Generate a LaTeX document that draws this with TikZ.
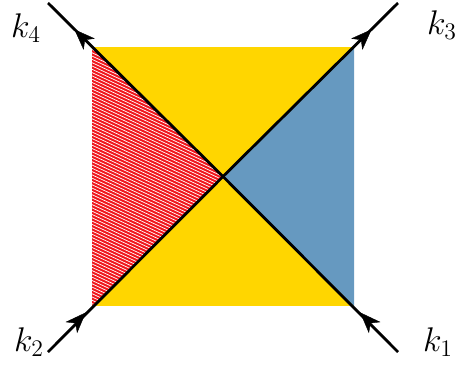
\documentclass[tikz,border=0pt]{standalone}
\usetikzlibrary{decorations.markings,arrows.meta}
\definecolor{gold}{RGB}{255,214,0}
\definecolor{steel}{RGB}{102,153,192}
\definecolor{hred}{RGB}{240,22,28}
\tikzset{
  leg/.style={line width=2.8pt, black},
  arrowmark/.style={postaction={decorate},decoration={markings,
     mark=at position #1 with {\arrow{Stealth[length=21pt,width=16pt,inset=6pt]}}}},
  lbl/.style={font=\huge, scale=1.65, inner sep=0pt}
}
\begin{document}
\begin{tikzpicture}[x=1pt,y=-1pt]
\useasboundingbox (0,0) rectangle (459,370);
\coordinate (TL) at (92,47);
\coordinate (TR) at (354,47);
\coordinate (BL) at (92,306);
\coordinate (BR) at (354,306);
\coordinate (C) at (223,176.5);
\coordinate (E1) at (398,352);
\coordinate (E2) at (48,352);
\coordinate (E3) at (398,3);
\coordinate (E4) at (48,3);
% areas
\fill[gold] (TL) rectangle (BR);
\fill[steel] (TR) -- (BR) -- (C) -- cycle;
\fill[hred] (TL) -- (BL) -- (C) -- cycle;
\begin{scope}
  \clip (TL) -- (BL) -- (C) -- cycle;
  \foreach \i in {-30,...,100}
    \draw[white, line width=0.7pt] (85,3.3*\i) -- ++(150,70);
\end{scope}
% lines
\draw[leg] (E2) -- (C) -- (E3);
\draw[leg] (E1) -- (C) -- (E4);
% arrows
\path[arrowmark=0.86] (E2) -- (BL);
\path[arrowmark=0.86] (E1) -- (BR);
\path[arrowmark=0.40] (TR) -- (E3);
\path[arrowmark=0.40] (TL) -- (E4);
% labels
\node[lbl] (k4) at (26,28) {$k_4$};
\node[lbl] (k3) at (442,25) {$k_3$};
\node[lbl] (k2) at (29,342) {$k_2$};
\node[lbl] (k1) at (438,342) {$k_1$};
\end{tikzpicture}
\end{document}
